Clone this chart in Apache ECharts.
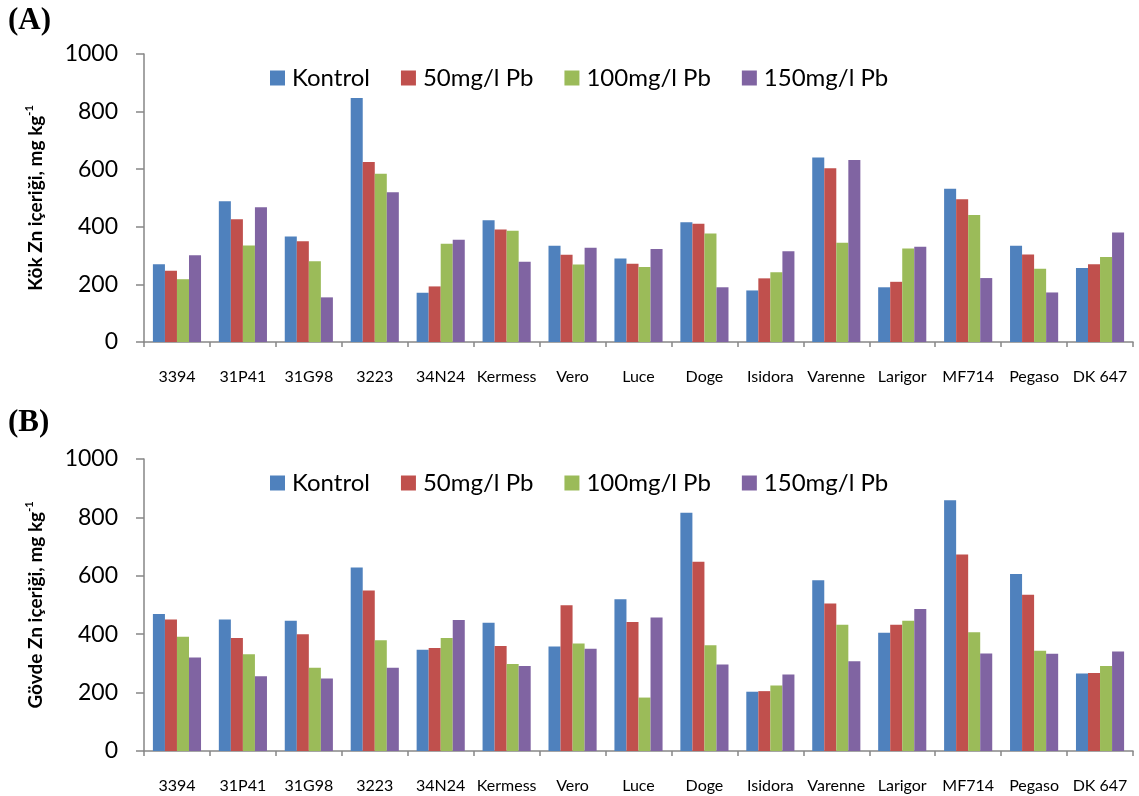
<!DOCTYPE html>
<html>
<head>
<meta charset="utf-8">
<script src="https://cdn.jsdelivr.net/npm/echarts@6/dist/echarts.min.js"></script>
<style>
html,body{margin:0;padding:0;background:#fff;}
#c{width:1139px;height:796px;}
</style>
</head>
<body>
<div id="c"></div>
<script>
var categories = ['3394','31P41','31G98','3223','34N24','Kermess','Vero','Luce','Doge','Isidora','Varenne','Larigor','MF714','Pegaso','DK 647'];
var seriesNames = ['Kontrol','50mg/l Pb','100mg/l Pb','150mg/l Pb'];
var yTicks = [0,200,400,600,800,1000];

// (A) Kök Zn içeriği
var aKontrol = [270,489,366,847,171,423,334,290,416,179,641,190,532,334,257];
var a50      = [247,426,350,625,193,391,303,272,411,221,603,209,496,304,270];
var a100     = [218,335,280,584,341,386,269,260,377,242,345,325,441,254,295];
var a150     = [301,468,155,520,355,279,327,323,190,315,632,331,222,172,380];

// (B) Gövde Zn içeriği
var bKontrol = [469,450,446,628,347,439,358,520,816,203,585,405,859,606,265];
var b50      = [450,387,400,550,353,360,499,442,648,205,505,432,673,535,267];
var b100     = [391,331,285,379,387,298,368,183,362,224,432,446,407,343,291];
var b150     = [320,256,248,285,449,291,350,457,296,262,307,486,334,333,341];

var colors = ['#4F81BD','#C0504D','#9BBB59','#8064A2'];
var FONT = 'Lato';
var axisColor = '#868686';

function xAxisCfg(gi){
  return {
    type:'category', gridIndex:gi, data:categories,
    axisLine:{lineStyle:{color:axisColor,width:1.5}},
    axisTick:{show:true,length:5,lineStyle:{color:axisColor,width:1.5}},
    axisLabel:{interval:0,color:'#000',fontFamily:FONT,fontSize:16,margin:27}
  };
}
function yAxisCfg(gi){
  return {
    type:'value', gridIndex:gi, min:yTicks[0], max:yTicks[yTicks.length-1], interval:yTicks[1]-yTicks[0],
    axisLine:{show:true,lineStyle:{color:axisColor,width:1.5}},
    axisTick:{show:true,length:8,lineStyle:{color:axisColor,width:1.5}},
    splitLine:{show:false},
    axisLabel:{color:'#000',fontFamily:FONT,fontSize:23,margin:26,formatter:function(v){return String(v);}}
  };
}
function barSeries(name, data, idx, gi){
  return {
    name:name, type:'bar', xAxisIndex:gi, yAxisIndex:gi, data:data,
    barGap:'0%', barCategoryGap:'27%',
    itemStyle:{color:colors[idx]}, animation:false
  };
}
function legendCfg(top){
  return {
    data:seriesNames, left:270, top:top, padding:0,
    itemWidth:15, itemHeight:15, itemGap:31,
    icon:'rect',
    textStyle:{color:'#000',fontFamily:FONT,fontSize:24,padding:[0,0,0,2]}
  };
}

var chart = echarts.init(document.getElementById('c'), null, {renderer:'canvas'});
var aSets = [aKontrol,a50,a100,a150];
var bSets = [bKontrol,b50,b100,b150];
var series = [];
seriesNames.forEach(function(n,i){ series.push(barSeries(n,aSets[i],i,0)); });
seriesNames.forEach(function(n,i){ series.push(barSeries(n,bSets[i],i,1)); });

function yTitle(x,y,label){
  return {
    type:'text', x:x, y:y, rotation:Math.PI/2,
    style:{
      text:'{m|'+label+'}{s|-1}',
      align:'center', verticalAlign:'middle',
      rich:{
        m:{fontFamily:FONT,fontWeight:'bold',fontSize:19,fill:'#000',lineHeight:24},
        s:{fontFamily:FONT,fontWeight:'bold',fontSize:11,fill:'#000',verticalAlign:'top',lineHeight:24,padding:[0,0,10,0]}
      }
    }
  };
}

chart.setOption({
  backgroundColor:'#fff',
  animation:false,
  color:colors,
  grid:[
    {left:144,right:6,top:54,height:288,containLabel:false},
    {left:144,right:6,top:459,height:292,containLabel:false}
  ],
  legend:[legendCfg(66), legendCfg(471)],
  xAxis:[xAxisCfg(0), xAxisCfg(1)],
  yAxis:[yAxisCfg(0), yAxisCfg(1)],
  series:series,
  graphic:[
    {type:'text',left:8,top:5,style:{text:'(A)',fontFamily:'Liberation Serif',fontWeight:'bold',fontSize:31,fill:'#000'}},
    {type:'text',left:8,top:407,style:{text:'(B)',fontFamily:'Liberation Serif',fontWeight:'bold',fontSize:31,fill:'#000'}},
    yTitle(36,198,'Kök Zn içeriği, mg kg'),
    yTitle(36,605,'Gövde Zn içeriği, mg kg')
  ]
});
</script>
</body>
</html>
